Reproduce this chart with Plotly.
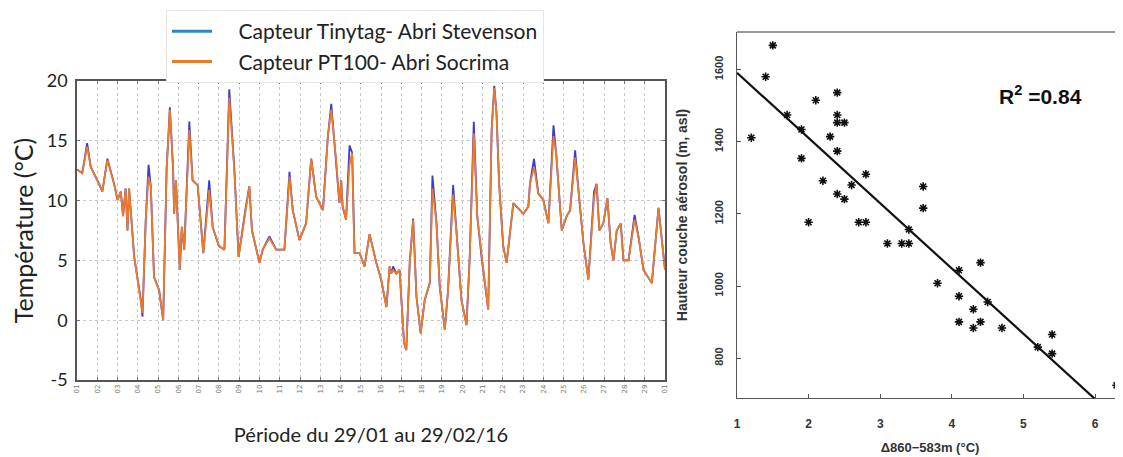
import pandas as pd
import plotly.graph_objects as go

# ---------------- Left chart data (day offset from 01/02/2016, temperature °C) ----------------
day_offsets = [0, 0.26, 0.5, 0.68, 1.09, 1.25, 1.5, 1.83, 2.0, 2.16, 2.27, 2.4, 2.49, 2.57, 2.82, 2.98,
               3.15, 3.23, 3.39, 3.53, 3.64, 3.8, 4.05, 4.25, 4.42, 4.58, 4.74, 4.79, 4.88, 5.07, 5.17,
               5.29, 5.54, 5.7, 5.95, 6.23, 6.52, 6.69, 7.0, 7.27, 7.51, 7.76, 7.97, 8.3, 8.5, 8.63,
               8.83, 9.0, 9.16, 9.49, 9.82, 10.23, 10.48, 10.64, 10.97, 11.3, 11.55, 11.8, 12.13, 12.37,
               12.54, 12.78, 12.94, 13.03, 13.1, 13.27, 13.44, 13.57, 13.64, 13.69, 13.94, 14.18, 14.43,
               14.76, 15.0, 15.26, 15.42, 15.5, 15.59, 15.75, 15.91, 16.13, 16.24, 16.41, 16.58, 16.74,
               16.95, 17.15, 17.4, 17.53, 17.73, 17.89, 18.14, 18.3, 18.55, 18.72, 18.96, 19.21, 19.37,
               19.57, 19.74, 19.95, 20.12, 20.28, 20.45, 20.58, 20.69, 20.82, 21.02, 21.19, 21.52, 21.85,
               22.01, 22.26, 22.34, 22.54, 22.75, 23.0, 23.25, 23.5, 23.63, 23.91, 24.15, 24.32, 24.57,
               24.73, 24.98, 25.22, 25.39, 25.5, 25.63, 25.76, 25.96, 26.16, 26.32, 26.46, 26.62, 26.82,
               26.95, 27.2, 27.5, 27.69, 27.94, 28.35, 28.68, 28.85, 29.0]

temp_pt100 = [12.6, 12.3, 14.5, 12.8, 11.4, 10.75, 13.4, 11.4, 10.05, 10.75, 8.7, 11.0, 7.5, 11.0, 5.3, 3.4,
              1.7, 0.6, 8.4, 12.0, 11.2, 3.6, 2.5, 0.0, 12.6, 17.6, 12.6, 8.9, 11.7, 4.2, 7.8,
              5.9, 15.9, 11.7, 11.3, 5.6, 10.9, 7.8, 6.2, 5.9, 18.6, 12.6, 5.3, 9.2, 11.2, 7.5,
              5.9, 4.8, 5.9, 6.85, 5.9, 5.9, 12.0, 9.2, 6.7, 8.1, 13.5, 10.3, 9.2, 15.3,
              17.6, 13.4, 9.8, 11.7, 9.5, 8.4, 13.0, 14.0, 8.4, 5.6, 5.6, 4.5, 7.2,
              4.8, 3.4, 1.1, 4.5, 3.9, 4.2, 3.9, 4.2, -1.9, -2.5, 4.8, 8.4, 2.0,
              -1.1, 1.7, 3.1, 11.0, 8.1, 2.8, -0.8, 2.5, 10.5, 7.3, 1.7, -0.4, 5.3,
              15.6, 8.7, 5.3, 3.1, 0.9, 15.9, 19.4, 17.3, 11.4, 6.2, 4.8, 9.8, 9.2,
              8.9, 9.5, 11.4, 12.8, 10.6, 10.05, 8.1, 15.4, 14.0, 7.5, 8.7, 9.2, 13.6,
              10.9, 6.4, 3.4, 7.5, 10.2, 11.4, 7.5, 8.1, 10.2, 6.4, 5.0, 7.5, 8.1,
              5.0, 5.0, 8.4, 7.0, 4.2, 3.1, 9.4, 6.7, 4.2]

temp_tinytag = [12.6, 12.3, 14.8, 12.8, 11.4, 10.75, 13.5, 11.4, 10.05, 10.75, 8.7, 11.0, 7.5, 11.0, 5.3, 3.4,
                1.7, 0.3, 8.4, 13.0, 11.2, 3.6, 2.5, 0.0, 12.6, 17.8, 12.6, 8.9, 11.7, 4.2, 7.8,
                5.9, 16.6, 11.7, 11.3, 5.6, 11.7, 7.8, 6.2, 5.9, 19.3, 12.6, 5.3, 9.2, 11.2, 7.5,
                5.9, 4.8, 5.9, 7.0, 5.9, 5.9, 12.4, 9.2, 6.7, 8.1, 13.5, 10.3, 9.2, 15.3,
                18.1, 13.4, 9.8, 11.7, 9.5, 8.4, 14.6, 14.0, 8.4, 5.6, 5.6, 4.5, 7.2,
                4.8, 3.4, 1.1, 4.5, 3.9, 4.5, 3.9, 4.2, -1.9, -2.5, 4.8, 8.5, 2.0,
                -1.1, 1.7, 3.1, 12.1, 8.1, 2.8, -0.8, 2.5, 11.3, 7.3, 1.7, -0.4, 5.3,
                16.6, 8.7, 5.3, 3.1, 0.9, 15.9, 19.6, 17.3, 11.4, 6.2, 4.8, 9.8, 9.2,
                8.9, 9.5, 11.4, 13.5, 10.6, 10.05, 8.1, 16.3, 14.0, 7.5, 8.7, 9.2, 14.2,
                10.9, 6.4, 3.4, 7.5, 10.75, 11.4, 7.5, 8.1, 10.2, 6.4, 5.0, 7.5, 8.1,
                5.0, 5.0, 8.8, 7.0, 4.2, 3.1, 9.4, 6.7, 4.2]

day_tick_labels = [f"{d:02d}" for d in range(1, 30)] + ["01"]
temp_ticks = [-5, 0, 5, 10, 15, 20]

# ---------------- Right chart data ----------------
delta_t = [1.50, 1.40, 1.20, 1.70, 1.90, 1.90, 2.10, 2.20, 2.00, 2.30, 2.40, 2.40, 2.40, 2.50, 2.40, 2.40,
           2.50, 2.60, 2.80, 2.70, 2.80, 3.60, 3.60, 3.40, 3.10, 3.30, 3.40, 3.80, 4.10, 4.40, 4.10, 4.30,
           4.50, 4.10, 4.40, 4.30, 4.70, 5.20, 5.40, 5.40, 6.30]
aerosol_height = [1667, 1580, 1411, 1474, 1434, 1354, 1515, 1292, 1177, 1414, 1536, 1474, 1453, 1453, 1374, 1255,
                  1241, 1280, 1310, 1177, 1177, 1276, 1216, 1157, 1118, 1118, 1118, 1008, 1044, 1065, 972, 936,
                  956, 901, 901, 884, 884, 831, 866, 813, 725]
fit_x = [1.0, 6.0]
fit_y = [1591, 687]
height_ticks = [800, 1000, 1200, 1400, 1600]
dt_ticks = [1, 2, 3, 4, 5, 6]
r2_text = "R<sup>2</sup> =0.84"

start = pd.Timestamp("2016-02-01")
times = [start + pd.to_timedelta(d, unit="D") for d in day_offsets]
tick_times = [start + pd.Timedelta(days=i) for i in range(len(day_tick_labels))]

BLUE_LINE = "#3b3bd0"
BLUE_LEG = "#2b87d1"
ORANGE = "#ec7a2c"
CAL = "Lato, Open Sans, sans-serif"
ARI = "Liberation Sans, Arial, sans-serif"
GAP = "\u00a0" * 4

fig = go.Figure()

fig.add_trace(go.Scatter(x=times, y=temp_tinytag, mode="lines", line=dict(color=BLUE_LINE, width=1.8),
                         showlegend=False, xaxis="x", yaxis="y"))
fig.add_trace(go.Scatter(x=times, y=temp_pt100, mode="lines", line=dict(color=ORANGE, width=1.8),
                         showlegend=False, xaxis="x", yaxis="y"))
# legend entries
fig.add_trace(go.Scatter(x=[None], y=[None], mode="lines", line=dict(color=BLUE_LEG, width=3),
                         name=GAP + "Capteur Tinytag- Abri Stevenson", xaxis="x", yaxis="y"))
fig.add_trace(go.Scatter(x=[None], y=[None], mode="lines", line=dict(color=ORANGE, width=3),
                         name=GAP + "Capteur PT100- Abri Socrima", xaxis="x", yaxis="y"))

fig.add_trace(go.Scatter(x=delta_t, y=aerosol_height, mode="markers",
                         marker=dict(symbol="asterisk-open", size=7, color="#111",
                                     line=dict(color="#111", width=1.6)),
                         showlegend=False, xaxis="x2", yaxis="y2", cliponaxis=False))
fig.add_trace(go.Scatter(x=fit_x, y=fit_y, mode="lines", line=dict(color="#111", width=2.2),
                         showlegend=False, xaxis="x2", yaxis="y2"))

# page body has an 8px margin: figure is placed at (8, 8) in the window
OFF = 8
W, H = 1123 - OFF, 457 - OFF
def px_x(p):
    return (p - OFF) / W
def px_y(p):
    return 1 - (p - OFF) / H

fig.update_layout(
    width=W, height=H,
    margin=dict(l=0, r=0, t=0, b=0, autoexpand=False),
    paper_bgcolor="white", plot_bgcolor="white",
    font=dict(family=CAL, color="#222"),
    showlegend=True,
    legend=dict(x=px_x(166), y=px_y(10), xanchor="left", yanchor="top",
                bgcolor="white", bordercolor="#e6e6e6", borderwidth=1,
                font=dict(size=21, family=CAL, color="#222"),
                itemwidth=40, tracegroupgap=0),
    xaxis=dict(domain=[px_x(77), px_x(665)], type="date", automargin=False,
               range=[tick_times[0], tick_times[-1]],
               tickmode="array", tickvals=tick_times, ticktext=day_tick_labels,
               tickangle=-90, tickfont=dict(size=7, color="#777", family="DejaVu Sans"),
               ticks="inside", ticklen=3, tickcolor="#777",
               showgrid=True, gridcolor="#c8c8c8", griddash="dot", gridwidth=1,
               showline=True, linecolor="#555", linewidth=1.5, mirror="ticks",
               zeroline=False,
               title=dict(text="Période du 29/01 au 29/02/16", font=dict(size=20), standoff=36)),
    yaxis=dict(domain=[px_y(380), px_y(81)], range=[-5, 20], automargin=False,
               tickmode="array", tickvals=temp_ticks, ticktext=[str(v) for v in temp_ticks],
               tickfont=dict(size=18), ticks="inside", ticklen=3, tickcolor="#777",
               ticklabelstandoff=4,
               showgrid=True, gridcolor="#c8c8c8", griddash="dot", gridwidth=1,
               showline=True, linecolor="#555", linewidth=1.5, mirror="ticks",
               zeroline=False,
               title=dict(text="Température (°C)", font=dict(size=25), standoff=10)),
    xaxis2=dict(domain=[px_x(737), 1.0], range=[1, 6.39], anchor="y2", automargin=False,
                tickvals=dt_ticks, ticktext=[f"<b>{v}</b>" for v in dt_ticks],
                tickfont=dict(size=12, family=ARI, color="#333"),
                ticks="inside", ticklen=4, tickcolor="#555", ticklabelstandoff=14,
                showgrid=False, zeroline=False,
                showline=True, linecolor="#555", linewidth=1.3,
                title=dict(text="<b>Δ860−583m (°C)</b>", font=dict(size=13, family=ARI, color="#333"),
                           standoff=13)),
    yaxis2=dict(domain=[px_y(398), px_y(32)], range=[690, 1704], anchor="x2", automargin=False,
                tickvals=height_ticks, ticktext=[f"<b>{v}</b>" for v in height_ticks], tickangle=-90,
                tickfont=dict(size=11, family=ARI, color="#333"),
                ticks="inside", ticklen=4, tickcolor="#555", ticklabelstandoff=8,
                showgrid=False, zeroline=False,
                showline=True, linecolor="#555", linewidth=1.3,
                title=dict(text="<b>Hauteur couche aérosol (m, asl)</b>",
                           font=dict(size=14, family=ARI, color="#333"), standoff=22)),
    annotations=[dict(text="<b>" + r2_text + "</b>", xref="paper", yref="paper",
                      x=px_x(1040), y=px_y(95), xanchor="center", yanchor="middle", showarrow=False,
                      font=dict(size=21, family=ARI, color="#111"))],
    shapes=[dict(type="line", xref="paper", yref="paper", x0=px_x(737), x1=1.0, y0=px_y(32), y1=px_y(32),
                 line=dict(color="#777", width=1.3))],
)

fig.write_html("out.html")
